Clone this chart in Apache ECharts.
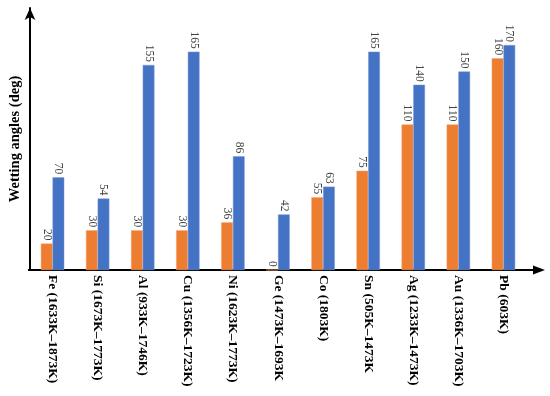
<!DOCTYPE html>
<html><head><meta charset="utf-8">
<script src="https://cdn.jsdelivr.net/npm/echarts@6/dist/echarts.min.js"></script>
<style>html,body{margin:0;padding:0;background:#fff}#c{width:550px;height:396px}</style>
</head><body><div id="c"></div>
<script>
const categories = ["Fe (1633K–1873K)","Si (1673K–1773K)","Al (933K–1746K)","Cu (1356K–1723K)","Ni (1623K–1773K)","Ge (1473K–1693K","Co (1803K)","Sn (505K–1473K","Ag (1233K–1473K)","Au (1336K–1703K)","Pb (603K)"];
const orangeValues = [20,30,30,30,36,0,55,75,110,110,160];
const blueValues = [70,54,155,165,86,42,63,165,140,150,170];
const yTitle = "Wetting angles (deg)";

const chart = echarts.init(document.getElementById('c'));
const serif = '"Liberation Serif","DejaVu Serif",serif';
const lbl = {show:true, position:'top', rotate:-90, align:'right', verticalAlign:'middle', distance:3,
  fontFamily:serif, fontSize:11.5, color:'#404040'};
chart.setOption({
  animation:false,
  grid:{left:28, right:24, top:8, bottom:126},
  xAxis:{type:'category', data:categories,
    axisLine:{show:false}, axisTick:{show:false},
    axisLabel:{rotate:-90, interval:0, margin:5, fontFamily:serif, fontWeight:'bold', fontSize:13.5, color:'#000'}},
  yAxis:{type:'value', min:0, max:198, name:yTitle, nameLocation:'middle', nameGap:7,
    nameTextStyle:{fontFamily:serif, fontWeight:'bold', fontSize:14.5, color:'#000'},
    axisLine:{show:true, lineStyle:{color:'#000', width:2}, symbol:['none','arrow'], symbolSize:[8,12]},
    axisTick:{show:false}, axisLabel:{show:false}, splitLine:{show:false}},
  graphic:[
    {type:'line', shape:{x1:28, y1:270, x2:536, y2:270}, style:{stroke:'#000', lineWidth:2}},
    {type:'polygon', shape:{points:[[545,270],[533,265.5],[533,274.5]]}, style:{fill:'#000'}}
  ],
  series:[
    {type:'bar', data:orangeValues, barGap:'0%', barCategoryGap:'48%',
      itemStyle:{color:'#ED7D31', borderColor:'#f4a36c', borderWidth:0.5}, label:lbl},
    {type:'bar', data:blueValues, barGap:'0%', barCategoryGap:'48%',
      itemStyle:{color:'#4472C4', borderColor:'#7c9ad6', borderWidth:0.5}, label:lbl}
  ]
});
</script></body></html>
